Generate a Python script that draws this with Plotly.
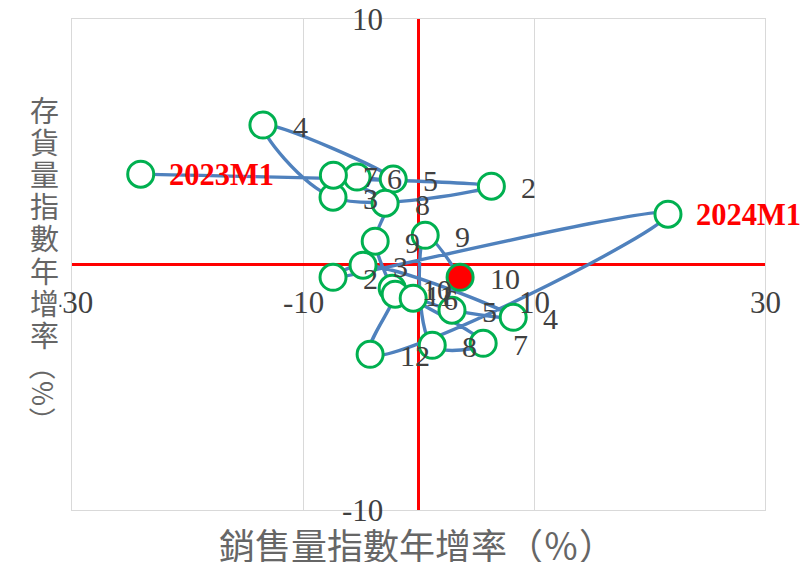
import plotly.graph_objects as go

# Month labels along the path (2023M1 .. 2024M10)
month_labels = ["2023M1", "2", "3", "4", "5", "6", "7", "8", "9", "10", "11", "12",
                "2024M1", "2", "3", "4", "5", "6", "7", "8", "9", "10"]
# Sales volume index, year-on-year growth (%)
sales_yoy = [-24.05, 6.31, -7.40, -13.47, -2.19, -5.32, -7.37, -2.89, -3.75, -2.28, -2.02, -4.19,
             21.6, -7.40, -4.80, 8.2, 2.9, -0.46, 5.6, 1.19, 0.58, 3.6]
# Inventory volume index, year-on-year growth (%)
inventory_yoy = [3.68, 3.19, 2.74, 5.68, 3.48, 3.56, 3.64, 2.50, 0.95, -0.97, -1.21, -3.66,
                 2.05, -0.52, -0.03, -2.15, -1.86, -1.37, -3.21, -3.29, 1.19, -0.52]

x_tick_vals = [-30, -10, 10, 30]
x_tick_text = ["-30", "-10", "10", "30"]
y_tick_vals = [-10, 10]
y_tick_text = ["-10", "10"]

x_title = "銷售量指數年增率（％）"
y_title_chars = ["存", "貨", "量", "指", "數", "年", "增", "率"]
y_title_tail = "（％）"

W, H = 802, 562
ML, MR, MT, MB = 72, 37, 19, 52
PW, PH = W - ML - MR, H - MT - MB


def px_to_paper(px, py):
    return (px - ML) / PW, (H - MB - py) / PH


SERIF = "Liberation Serif, Times New Roman, serif"
CJK = "Noto Sans CJK TC, Noto Sans CJK SC, sans-serif"
GREEN = "#00B050"
BLUE = "#4F81BD"
TITLE_GRAY = "#666666"

fig = go.Figure()

# Smoothed path connecting the months
fig.add_trace(go.Scatter(
    x=sales_yoy, y=inventory_yoy, mode="lines",
    line=dict(color=BLUE, width=3.4, shape="spline", smoothing=1.0),
    hoverinfo="skip", showlegend=False,
))
# Monthly markers
fig.add_trace(go.Scatter(
    x=sales_yoy[:-1], y=inventory_yoy[:-1], mode="markers",
    marker=dict(size=26, color="white", line=dict(color=GREEN, width=3)),
    showlegend=False,
))
# Latest month highlighted
fig.add_trace(go.Scatter(
    x=sales_yoy[-1:], y=inventory_yoy[-1:], mode="markers",
    marker=dict(size=26, color="#FF0000", line=dict(color=GREEN, width=3)),
    showlegend=False,
))

annotations = []

# Point labels
for lab, xv, yv in zip(month_labels, sales_yoy, inventory_yoy):
    is_year = "M" in lab
    annotations.append(dict(
        x=xv, y=yv, xref="x", yref="y", text=f"<b>{lab}</b>" if is_year else lab,
        showarrow=False, xanchor="left", yanchor="middle",
        xshift=26 if is_year else 28, yshift=-1,
        font=dict(family=SERIF, size=30.5 if is_year else 30,
                  color="#FF0000" if is_year else "#404040"),
    ))

# Axis tick labels placed at the crossing axes
for v, t in zip(x_tick_vals, x_tick_text):
    annotations.append(dict(
        x=v, y=0, xref="x", yref="y", text=t, showarrow=False,
        xanchor="center", yanchor="middle", yshift=-38,
        font=dict(family=SERIF, size=31, color="#404040"),
    ))
for v, t in zip(y_tick_vals, y_tick_text):
    annotations.append(dict(
        x=0, y=v, xref="x", yref="y", text=t, showarrow=False,
        xanchor="right", yanchor="middle", xshift=-34,
        font=dict(family=SERIF, size=31, color="#404040"),
    ))

# Axis titles
tx, ty = px_to_paper(417, 544)
annotations.append(dict(
    x=tx, y=ty, xref="paper", yref="paper", text=x_title, showarrow=False,
    xanchor="center", yanchor="middle",
    font=dict(family=CJK, size=36, color=TITLE_GRAY),
))

# Vertical title, one upright character per line; the character sitting
# over the left tick label gets a white box so it reads cleanly.
title_pos = [(ch, 109 + 32.1 * k) for k, ch in enumerate(y_title_chars)]
boxed = [p for p in title_pos if p[0] == "增"]
plain = [p for p in title_pos if p[0] != "增"]
for ch, py in boxed + plain:
    cx, cy = px_to_paper(44, py)
    annotations.append(dict(
        x=cx, y=cy, xref="paper", yref="paper", text=ch, showarrow=False,
        xanchor="center", yanchor="middle",
        bgcolor="white" if ch == "增" else "rgba(0,0,0,0)", borderpad=0,
        font=dict(family=CJK, size=29, color=TITLE_GRAY),
    ))
cx, cy = px_to_paper(44, 393)
annotations.append(dict(
    x=cx, y=cy, xref="paper", yref="paper", text=y_title_tail, showarrow=False,
    textangle=90, xanchor="center", yanchor="middle",
    font=dict(family=CJK, size=27, color=TITLE_GRAY),
))

axis_common = dict(
    showgrid=True, gridcolor="#d9d9d9", gridwidth=1.3,
    zeroline=True, zerolinecolor="#FF0000", zerolinewidth=3,
    showline=True, linecolor="#d9d9d9", linewidth=1.3, mirror=True,
    showticklabels=False, ticks="", fixedrange=True,
)

fig.update_layout(
    width=W, height=H,
    margin=dict(l=ML, r=MR, t=MT, b=MB),
    paper_bgcolor="white", plot_bgcolor="white",
    xaxis=dict(range=[-30, 30], tickvals=x_tick_vals, **axis_common),
    yaxis=dict(range=[-10, 10], tickvals=y_tick_vals, **axis_common),
    annotations=annotations,
    showlegend=False,
)

fig.write_html("out.html")
